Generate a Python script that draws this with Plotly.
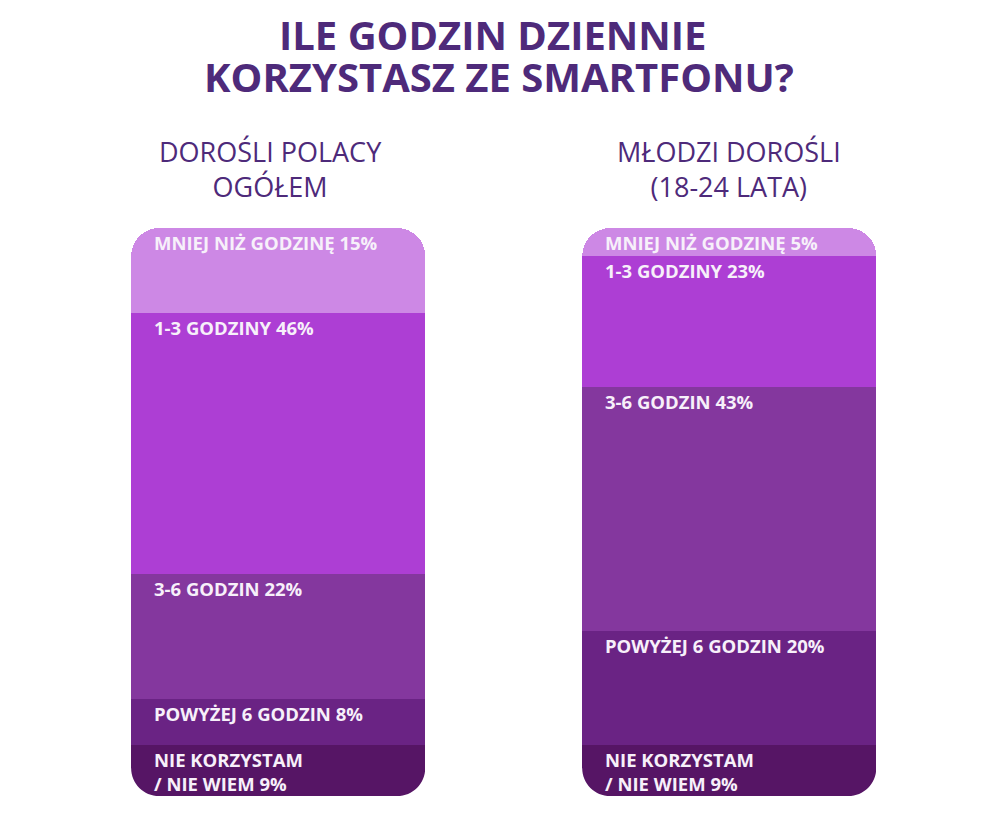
import plotly.graph_objects as go

# --- data ---
title_lines = ["ILE GODZIN DZIENNIE", "KORZYSTASZ ZE SMARTFONU?"]
groups = ["DOROŚLI POLACY<br>OGÓŁEM", "MŁODZI DOROŚLI<br>(18-24 LATA)"]
# stack order: bottom -> top
answers = [
    "NIE KORZYSTAM<br>/ NIE WIEM",
    "POWYŻEJ 6 GODZIN",
    "3-6 GODZIN",
    "1-3 GODZINY",
    "MNIEJ NIŻ GODZINĘ",
]
adults = [9, 8, 22, 46, 15]
young = [9, 20, 43, 23, 5]
colors = ["#561565", "#6a2384", "#84379e", "#ad3ed4", "#cd88e5"]

series = [adults, young]
xpos = [0, 1]
bar_w = 0.652
title_color = "#4e2a7a"

fig = go.Figure()

for k, name in enumerate(answers):
    fig.add_trace(go.Bar(
        x=xpos,
        y=[s[k] for s in series],
        width=bar_w,
        marker=dict(color=colors[k], line=dict(width=0)),
        name=name.replace("<br>", " "),
        hoverinfo="name+y",
    ))

# segment labels, top-left of each segment
for i, s in enumerate(series):
    top = 0
    for k, v in enumerate(s):
        top += v
        fig.add_annotation(
            x=xpos[i] - bar_w / 2, y=top, xref="x", yref="y",
            text="<b>%s %d%%</b>" % (answers[k], v),
            showarrow=False, xanchor="left", yanchor="top", align="left",
            xshift=21, yshift=0,
            font=dict(family="Open Sans", size=18.5, color="#f7f0fa"),
        )

# main title, two lines
for line, xc, ys in zip(title_lines, [0.484, 0.491], [164, 122]):
    fig.add_annotation(
        x=xc, y=1, xref="paper", yref="paper",
        text="<b>%s</b>" % line, showarrow=False,
        xanchor="center", yanchor="bottom", yshift=ys,
        height=42, valign="bottom",
        font=dict(family="Open Sans", size=40, color=title_color),
    )

# group headings
for i, g in enumerate(groups):
    fig.add_annotation(
        x=xpos[i], y=1, xref="x", yref="paper",
        text=g, showarrow=False, xanchor="center", yanchor="bottom",
        xshift=-8 if i == 0 else 0, yshift=21, align="center",
        font=dict(family="Open Sans", size=27, color=title_color),
    )

# round the bottom corners of each bar with white masks
rx = 0.062
ry = 4.9
kk = 0.552
ex = 0.004   # small overhang so no antialiased edge shows
for x in xpos:
    x0 = x - bar_w / 2
    x1 = x + bar_w / 2
    left = "M %f %f L %f %f C %f %f %f %f %f %f L %f %f Z" % (
        x0 - ex, ry, x0, ry, x0, ry * (1 - kk), x0 + rx * (1 - kk), 0,
        x0 + rx, 0, x0 - ex, 0)
    right = "M %f %f L %f %f C %f %f %f %f %f %f L %f %f Z" % (
        x1 + ex, ry, x1, ry, x1, ry * (1 - kk), x1 - rx * (1 - kk), 0,
        x1 - rx, 0, x1 + ex, 0)
    for p in (left, right):
        fig.add_shape(type="path", path=p, xref="x", yref="y",
                      fillcolor="white", line=dict(width=0), layer="above")

fig.update_layout(
    width=1000, height=837,
    barmode="stack",
    barcornerradius=28,
    showlegend=False,
    paper_bgcolor="white",
    plot_bgcolor="white",
    margin=dict(l=0, r=0, t=220, b=49),
    xaxis=dict(range=[-0.599, 1.618], visible=False, fixedrange=True),
    yaxis=dict(range=[0, 100], visible=False, fixedrange=True),
)

fig.write_html("out.html")
